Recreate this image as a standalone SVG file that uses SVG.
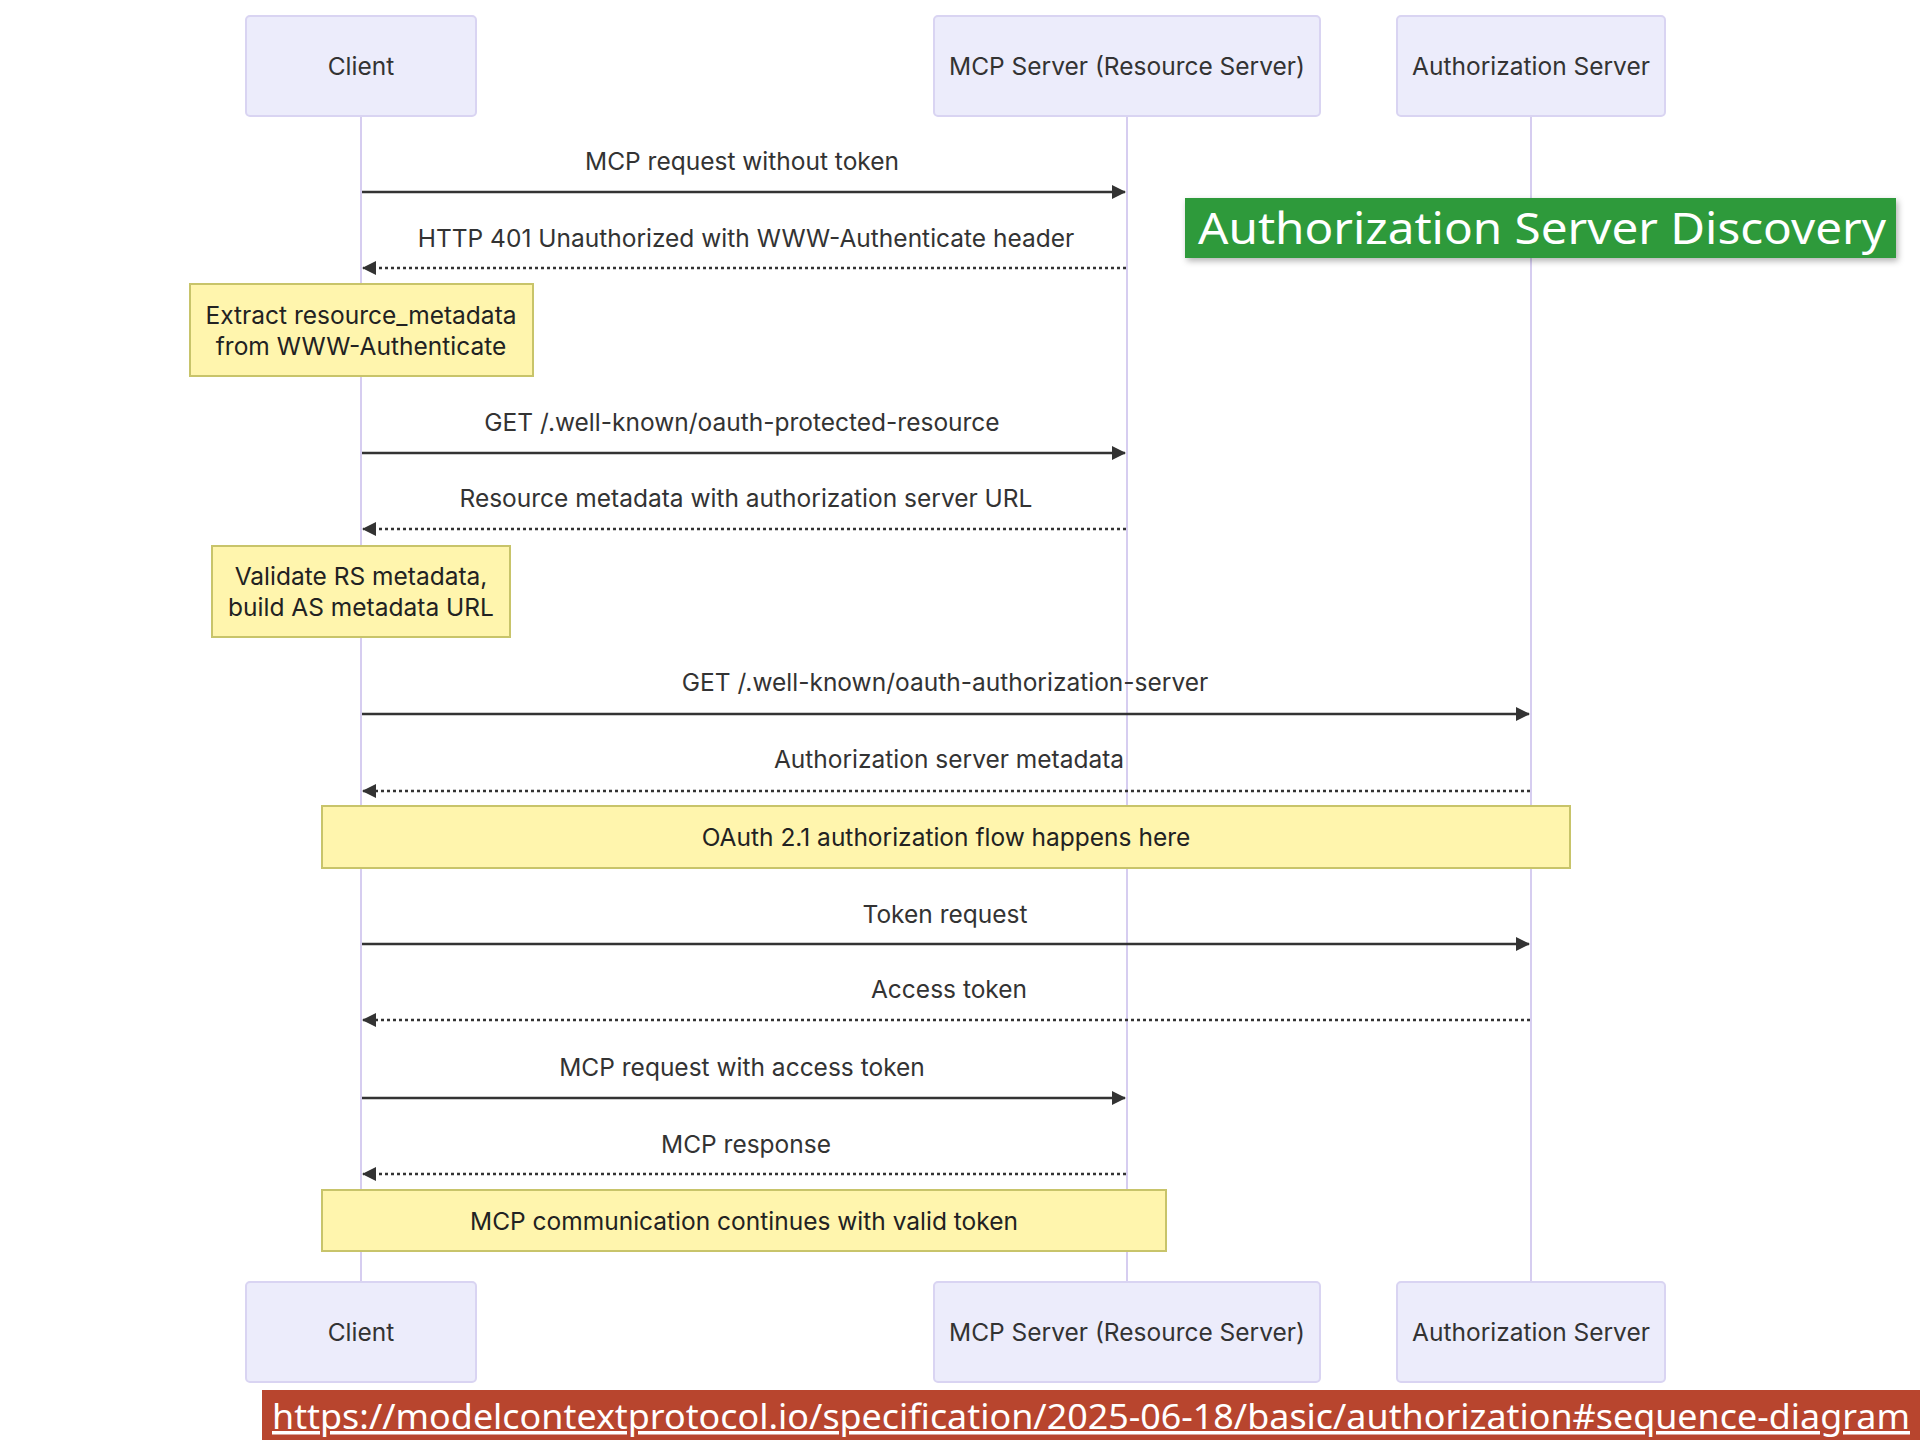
<svg xmlns="http://www.w3.org/2000/svg" width="1920" height="1440" viewBox="0 0 1920 1440">
<style>
.actor{fill:#ececfb;stroke:#d9d4f2;stroke-width:2}
.atext{font-family:Inter,"Liberation Sans",sans-serif;font-size:24.5px;fill:#333;text-anchor:middle;dominant-baseline:central}
.life{stroke:#d6cdf0;stroke-width:2}
.msg{stroke:#333;stroke-width:2.5;fill:none}
.dash{stroke-dasharray:3,3}
.mtext{font-family:Inter,"Liberation Sans",sans-serif;font-size:24.5px;fill:#333;text-anchor:middle}
.note{fill:#fff5ad;stroke:#c8c46a;stroke-width:2}
.ntext{font-family:Inter,"Liberation Sans",sans-serif;font-size:24.5px;fill:#222;text-anchor:middle}
</style>
<defs>
<marker id="ah" viewBox="0 0 14 14" refX="13" refY="7" markerWidth="14" markerHeight="14" markerUnits="userSpaceOnUse" orient="auto">
<path d="M0,0 L14,7 L0,14 z" fill="#333"/>
</marker>
<filter id="sh" x="-5%" y="-20%" width="110%" height="150%">
<feDropShadow dx="2" dy="3" stdDeviation="3" flood-color="#000" flood-opacity="0.3"/>
</filter>
</defs>
<rect width="1920" height="1440" fill="#fff"/>

<g id="lifelines">
<line class="life" x1="361" y1="116" x2="361" y2="1282"/>
<line class="life" x1="1127" y1="116" x2="1127" y2="1282"/>
<line class="life" x1="1531" y1="116" x2="1531" y2="1282"/>
</g>

<g id="actor-client-top"><rect class="actor" x="246" y="16" width="230" height="100" rx="4"/><text class="atext" x="361" y="66">Client</text></g>
<g id="actor-mcp-top"><rect class="actor" x="934" y="16" width="386" height="100" rx="4"/><text class="atext" x="1127" y="66">MCP Server (Resource Server)</text></g>
<g id="actor-auth-top"><rect class="actor" x="1397" y="16" width="268" height="100" rx="4"/><text class="atext" x="1531" y="66">Authorization Server</text></g>

<g id="actor-client-bottom"><rect class="actor" x="246" y="1282" width="230" height="100" rx="4"/><text class="atext" x="361" y="1332">Client</text></g>
<g id="actor-mcp-bottom"><rect class="actor" x="934" y="1282" width="386" height="100" rx="4"/><text class="atext" x="1127" y="1332">MCP Server (Resource Server)</text></g>
<g id="actor-auth-bottom"><rect class="actor" x="1397" y="1282" width="268" height="100" rx="4"/><text class="atext" x="1531" y="1332">Authorization Server</text></g>

<g id="note-extract"><rect class="note" x="190" y="284" width="343" height="92"/><text class="ntext" x="361" y="324">Extract resource_metadata</text><text class="ntext" x="361" y="355">from WWW-Authenticate</text></g>
<g id="note-validate"><rect class="note" x="212" y="546" width="298" height="91"/><text class="ntext" x="361" y="585">Validate RS metadata,</text><text class="ntext" x="361" y="616">build AS metadata URL</text></g>
<g id="note-oauth"><rect class="note" x="322" y="806" width="1248" height="62"/><text class="ntext" x="946" y="846">OAuth 2.1 authorization flow happens here</text></g>
<g id="note-continue"><rect class="note" x="322" y="1190" width="844" height="61"/><text class="ntext" x="744" y="1230">MCP communication continues with valid token</text></g>

<g id="connectors">
<line class="msg" x1="362" y1="192" x2="1125" y2="192" marker-end="url(#ah)"/>
<line class="msg dash" x1="1126" y1="268" x2="363" y2="268" marker-end="url(#ah)"/>
<line class="msg" x1="362" y1="453" x2="1125" y2="453" marker-end="url(#ah)"/>
<line class="msg dash" x1="1126" y1="529" x2="363" y2="529" marker-end="url(#ah)"/>
<line class="msg" x1="362" y1="714" x2="1529" y2="714" marker-end="url(#ah)"/>
<line class="msg dash" x1="1530" y1="791" x2="363" y2="791" marker-end="url(#ah)"/>
<line class="msg" x1="362" y1="944" x2="1529" y2="944" marker-end="url(#ah)"/>
<line class="msg dash" x1="1530" y1="1020" x2="363" y2="1020" marker-end="url(#ah)"/>
<line class="msg" x1="362" y1="1098" x2="1125" y2="1098" marker-end="url(#ah)"/>
<line class="msg dash" x1="1126" y1="1174" x2="363" y2="1174" marker-end="url(#ah)"/>
</g>

<g id="labels">
<text class="mtext" x="742" y="170">MCP request without token</text>
<text class="mtext" x="746" y="247">HTTP 401 Unauthorized with WWW-Authenticate header</text>
<text class="mtext" x="742" y="431">GET /.well-known/oauth-protected-resource</text>
<text class="mtext" x="746" y="507">Resource metadata with authorization server URL</text>
<text class="mtext" x="945" y="691">GET /.well-known/oauth-authorization-server</text>
<text class="mtext" x="949" y="768">Authorization server metadata</text>
<text class="mtext" x="945" y="923">Token request</text>
<text class="mtext" x="949" y="998">Access token</text>
<text class="mtext" x="742" y="1076">MCP request with access token</text>
<text class="mtext" x="746" y="1153">MCP response</text>
</g>

<g id="banner-title">
<rect x="1185" y="198" width="711" height="60" fill="#2e9a3a" filter="url(#sh)"/>
<text x="1542" y="244" font-family="'Noto Sans','Liberation Sans',sans-serif" font-size="44" fill="#fff" text-anchor="middle" textLength="688" lengthAdjust="spacingAndGlyphs">Authorization Server Discovery</text>
</g>

<g id="banner-url">
<rect x="262" y="1390" width="1658" height="50" fill="#b8452e"/>
<text x="272" y="1429" font-family="'Noto Sans','Liberation Sans',sans-serif" font-size="35" fill="#fff" text-decoration="underline" textLength="1638" lengthAdjust="spacingAndGlyphs">https://modelcontextprotocol.io/specification/2025-06-18/basic/authorization#sequence-diagram</text>
</g>
</svg>
